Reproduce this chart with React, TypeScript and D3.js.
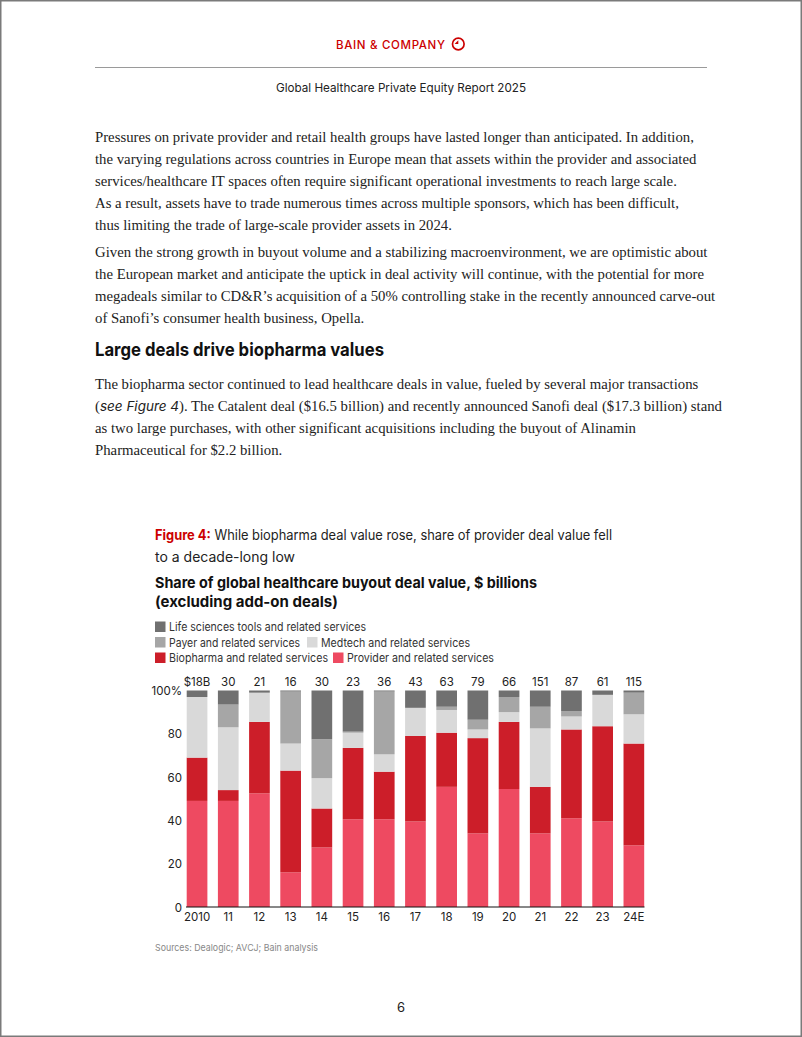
import React from "react";
import * as d3 from "d3";

const years = ["2010", "11", "12", "13", "14", "15", "16", "17", "18", "19", "20", "21", "22", "23", "24E"];
const totals = ["$18B", "30", "21", "16", "30", "23", "36", "43", "63", "79", "66", "151", "87", "61", "115"];
const provider = [49, 49, 52.5, 16, 27.5, 40.5, 40.5, 39.5, 55.5, 34, 54.5, 34, 41, 39.5, 28.5];
const biopharma = [20, 5, 33, 47, 18, 33, 22, 39.5, 25, 44, 31, 21.5, 41, 44, 47];
const medtech = [28, 29, 13.5, 12.5, 14, 7, 8, 13, 10.5, 4, 4.5, 27, 6, 14.5, 13.5];
const payer = [0, 10.5, 0, 24, 18, 0.5, 29, 0, 1.5, 4.5, 7, 10, 2.5, 0, 10];
const lifeSci = [3, 6.5, 1, 0.5, 22.5, 19, 0.5, 8, 7.5, 13.5, 3, 7.5, 9.5, 2, 1];
const yTicks = [0, 20, 40, 60, 80, 100];

const seriesKeys = ["provider", "biopharma", "medtech", "payer", "lifeSci"];
const seriesColors: Record<string, string> = {
  provider: "#ee4a61",
  biopharma: "#cc1e29",
  medtech: "#d9d9d9",
  payer: "#a6a6a6",
  lifeSci: "#707070",
};

const para1 = [
  "Pressures on private provider and retail health groups have lasted longer than anticipated. In addition,",
  "the varying regulations across countries in Europe mean that assets within the provider and associated",
  "services/healthcare IT spaces often require significant operational investments to reach large scale.",
  "As a result, assets have to trade numerous times across multiple sponsors, which has been difficult,",
  "thus limiting the trade of large-scale provider assets in 2024.",
];
const para2 = [
  "Given the strong growth in buyout volume and a stabilizing macroenvironment, we are optimistic about",
  "the European market and anticipate the uptick in deal activity will continue, with the potential for more",
  "megadeals similar to CD&R\u2019s acquisition of a 50% controlling stake in the recently announced carve-out",
  "of Sanofi\u2019s consumer health business, Opella.",
];

export default function App() {
  const table = years.map((y, i) => ({
    year: y,
    provider: provider[i],
    biopharma: biopharma[i],
    medtech: medtech[i],
    payer: payer[i],
    lifeSci: lifeSci[i],
  }));
  const stacked = d3.stack<any>().keys(seriesKeys)(table);
  const x = d3.scaleBand().domain(years).range([186.7, 644.2]).paddingInner(0.337).paddingOuter(0);
  const y = d3.scaleLinear().domain([0, 100]).range([907, 690.5]);

  const serif = "'Liberation Serif', 'DejaVu Serif', serif";
  const sans = "Inter, 'Noto Sans', sans-serif";
  const bodyColor = "#222";
  const bodySize = 14.75;

  return (
    <svg
      width={802}
      height={1037}
      style={{ position: "absolute", left: 0, top: 0, background: "#fff" }}
      xmlns="http://www.w3.org/2000/svg"
    >
      <rect x={0} y={0} width={802} height={1037} fill="#fff" />
      <rect x={0.75} y={0.75} width={800.5} height={1035.5} fill="none" stroke="#7a7a7a" strokeWidth={1.5} />

      {/* header */}
      <text x={336} y={48.5} fontFamily={sans} fontWeight={500} fontSize={11.5} fill="#cc0000" textLength={109} lengthAdjust="spacing">
        BAIN &amp; COMPANY
      </text>
      <circle cx={458.3} cy={44} r={5.8} fill="none" stroke="#cc0000" strokeWidth={1.7} />
      <path d="M458.3,40.2 L458.3,44 L454.6,44 Z" fill="#cc0000" />
      <line x1={95} x2={707} y1={67.5} y2={67.5} stroke="#9a9a9a" strokeWidth={1} />
      <text x={276} y={91.5} fontFamily={sans} fontSize={12} fill={bodyColor} textLength={250} lengthAdjust="spacingAndGlyphs">
        Global Healthcare Private Equity Report 2025
      </text>

      {/* body paragraphs */}
      {para1.map((t, i) => (
        <text key={"p1" + i} x={95} y={142 + i * 22} fontFamily={serif} fontSize={bodySize} fill={bodyColor}>
          {t}
        </text>
      ))}
      {para2.map((t, i) => (
        <text key={"p2" + i} x={95} y={257 + i * 22} fontFamily={serif} fontSize={bodySize} fill={bodyColor}>
          {t}
        </text>
      ))}

      <text x={95} y={356} fontFamily={sans} fontWeight={700} fontSize={18.5} fill="#111" textLength={289} lengthAdjust="spacingAndGlyphs">
        Large deals drive biopharma values
      </text>

      <text x={95} y={389} fontFamily={serif} fontSize={bodySize} fill={bodyColor}>
        The biopharma sector continued to lead healthcare deals in value, fueled by several major transactions
      </text>
      <text x={95} y={411} fontFamily={serif} fontSize={bodySize} fill={bodyColor}>
        (<tspan fontFamily={sans} fontStyle="italic" fontSize={13.5}>see Figure 4</tspan>). The Catalent deal ($16.5 billion) and recently announced Sanofi deal ($17.3 billion) stand
      </text>
      <text x={95} y={433} fontFamily={serif} fontSize={bodySize} fill={bodyColor}>
        as two large purchases, with other significant acquisitions including the buyout of Alinamin
      </text>
      <text x={95} y={455} fontFamily={serif} fontSize={bodySize} fill={bodyColor}>
        Pharmaceutical for $2.2 billion.
      </text>

      {/* figure title */}
      <text x={155} y={540} fontFamily={sans} fontSize={14} fill={bodyColor} textLength={457} lengthAdjust="spacingAndGlyphs">
        <tspan fill="#cc0000" fontWeight={700}>Figure 4:</tspan> While biopharma deal value rose, share of provider deal value fell
      </text>
      <text x={155} y={562} fontFamily={sans} fontSize={14} fill={bodyColor}>
        to a decade-long low
      </text>

      <text x={155} y={588} fontFamily={sans} fontWeight={700} fontSize={15} fill="#111" textLength={382} lengthAdjust="spacingAndGlyphs">
        Share of global healthcare buyout deal value, $ billions
      </text>
      <text x={155} y={607} fontFamily={sans} fontWeight={700} fontSize={15} fill="#111">
        (excluding add-on deals)
      </text>

      {/* legend */}
      <g fontFamily={sans} fontSize={11.5} fill="#333">
        <rect x={155} y={621.5} width={10.5} height={10.5} fill={seriesColors.lifeSci} />
        <text x={169} y={631} textLength={197} lengthAdjust="spacingAndGlyphs">Life sciences tools and related services</text>
        <rect x={155} y={637} width={10.5} height={10.5} fill={seriesColors.payer} />
        <text x={169} y={646.5} textLength={131} lengthAdjust="spacingAndGlyphs">Payer and related services</text>
        <rect x={307} y={637} width={10.5} height={10.5} fill={seriesColors.medtech} />
        <text x={321} y={646.5} textLength={149} lengthAdjust="spacingAndGlyphs">Medtech and related services</text>
        <rect x={155} y={652.5} width={10.5} height={10.5} fill={seriesColors.biopharma} />
        <text x={169} y={662} textLength={159} lengthAdjust="spacingAndGlyphs">Biopharma and related services</text>
        <rect x={333} y={652.5} width={10.5} height={10.5} fill={seriesColors.provider} />
        <text x={347} y={662} textLength={147} lengthAdjust="spacingAndGlyphs">Provider and related services</text>
      </g>

      {/* bars */}
      {stacked.map((s) => (
        <g key={s.key} fill={seriesColors[s.key]}>
          {s.map((d, i) =>
            d[1] - d[0] > 0 ? (
              <rect
                key={i}
                x={x(years[i])}
                y={y(d[1])}
                width={x.bandwidth()}
                height={y(d[0]) - y(d[1])}
              />
            ) : null
          )}
        </g>
      ))}

      {/* totals */}
      <g fontFamily={sans} fontSize={11.5} fill="#222" textAnchor="middle">
        {years.map((yr, i) => (
          <text key={yr} x={(x(yr) as number) + x.bandwidth() / 2} y={686}>
            {totals[i]}
          </text>
        ))}
      </g>

      {/* y axis labels */}
      <g fontFamily={sans} fontSize={11.5} fill="#222" textAnchor="end">
        {yTicks.map((t) => (
          <text key={t} x={182} y={y(t) + 4.5}>
            {t === 100 ? "100%" : String(t)}
          </text>
        ))}
      </g>

      {/* x axis */}
      <line x1={186} x2={644.5} y1={907} y2={907} stroke="#111" strokeWidth={1} />
      <g fontFamily={sans} fontSize={11.5} fill="#222" textAnchor="middle">
        {years.map((yr) => (
          <text key={yr} x={(x(yr) as number) + x.bandwidth() / 2} y={920.5}>
            {yr}
          </text>
        ))}
      </g>

      <text x={155} y={951} fontFamily={sans} fontSize={9.5} fill="#888" textLength={163} lengthAdjust="spacingAndGlyphs">
        Sources: Dealogic; AVCJ; Bain analysis
      </text>

      <text x={401} y={1012} textAnchor="middle" fontFamily={sans} fontSize={13} fill="#222">
        6
      </text>
    </svg>
  );
}
